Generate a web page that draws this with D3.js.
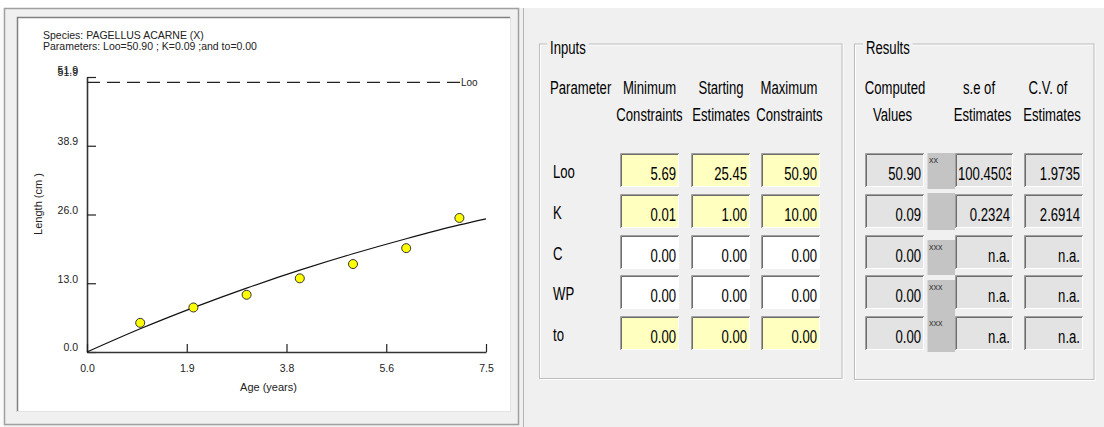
<!DOCTYPE html>
<html>
<head>
<meta charset="utf-8">
<script src="https://cdn.jsdelivr.net/npm/d3@7"></script>
<style>
  html, body { margin: 0; padding: 0; background: #f0f0f0; }
  svg { display: block; font-family: "Liberation Sans", Arial, sans-serif; }
</style>
</head>
<body>
<svg id="root" width="1104" height="427"></svg>
<script>
// ---- Growth data: observed mean length at age ----
const ages = [1, 2, 3, 4, 5, 6, 7];
const meanLengths = [5.5, 8.4, 10.8, 13.9, 16.6, 19.6, 25.3];

// ---- Fitted growth curve (Loo=50.90, K=0.09, to=0.00) ----
const curveAges = [0, 1, 2, 3, 4, 5, 6, 7, 7.5];
const curveLengths = [0, 4.38, 8.38, 12.06, 15.44, 18.54, 21.38, 23.99, 25.14];
const lInfinity = 50.9;

// ---- Axis ticks ----
const xTickValues = [0, 1.875, 3.75, 5.625, 7.5];
const xTickLabels = ["0.0", "1.9", "3.8", "5.6", "7.5"];
const yTickValues = [0, 12.975, 25.95, 38.925, 51.9];
const yTickLabels = ["0.0", "13.0", "26.0", "38.9", "51.9"];

// ---- Parameter table ----
const paramNames = ["Loo", "K", "C", "WP", "to"];
const minConstraints = [5.69, 0.01, 0.00, 0.00, 0.00];
const startEstimates = [25.45, 1.00, 0.00, 0.00, 0.00];
const maxConstraints = [50.90, 10.00, 0.00, 0.00, 0.00];
const activeParams = [true, true, false, false, true];
const computedValues = [50.90, 0.09, 0.00, 0.00, 0.00];
const seEstimates = ["100.4503", "0.2324", "n.a.", "n.a.", "n.a."];
const cvEstimates = ["1.9735", "2.6914", "n.a.", "n.a.", "n.a."];
const flags = ["xx", "", "xxx", "xxx", "xxx"];

const svg = d3.select("#root");
const W = 1104, H = 427;

// window background
svg.append("rect").attr("width", W).attr("height", H).attr("fill", "#f0f0f0");
svg.append("rect").attr("width", W).attr("height", 8).attr("fill", "#ffffff");
svg.append("rect").attr("y", 8).attr("width", 4).attr("height", H - 8).attr("fill", "#fafafa");

// ---------- left pane ----------
const pane = svg.append("g");
pane.append("rect").attr("x", 4.5).attr("y", 8.5).attr("width", 514).attr("height", 416)
  .attr("fill", "#f0f0f0").attr("stroke", "#a0a0a0").attr("stroke-width", 1.5);
pane.append("rect").attr("x", 17).attr("y", 17).attr("width", 493).attr("height", 395).attr("fill", "#ffffff");
pane.append("path").attr("d", "M17.5,412V17.5H510").attr("fill", "none").attr("stroke", "#808080").attr("stroke-width", 1.5);
pane.append("path").attr("d", "M17,411.5H510.5V17").attr("fill", "none").attr("stroke", "#e3e3e3");
svg.append("line").attr("x1", 523.5).attr("x2", 523.5).attr("y1", 8).attr("y2", H)
  .attr("stroke", "#b4b4b4");

const chart = svg.append("g").attr("fill", "#222");
const x = d3.scaleLinear().domain([0, 7.5]).range([87, 486]);
const y = d3.scaleLinear().domain([0, 51.9]).range([352, 77]);

chart.append("text").attr("x", 43).attr("y", 38.5).attr("font-size", 10.5)
  .text("Species: PAGELLUS ACARNE (X)");
chart.append("text").attr("x", 43).attr("y", 49.5).attr("font-size", 10.5)
  .text("Parameters: Loo=50.90 ; K=0.09 ;and to=0.00");

const yAxis = chart.append("g").attr("transform", `translate(${x(0)},0)`)
  .call(d3.axisLeft(y).tickValues(yTickValues).tickFormat((d, i) => yTickLabels[i])
    .tickSizeInner(-9).tickSizeOuter(0).tickPadding(9));
const xAxis = chart.append("g").attr("transform", `translate(0,${y(0)})`)
  .call(d3.axisBottom(x).tickValues(xTickValues).tickFormat((d, i) => xTickLabels[i])
    .tickSizeInner(-8).tickSizeOuter(0).tickPadding(13));
[yAxis, xAxis].forEach(a => {
  a.attr("font-family", null).attr("font-size", 10.5);
  a.select(".domain").attr("stroke", "#333").attr("stroke-width", 1.6);
  a.selectAll(".tick line").attr("stroke", "#222").attr("stroke-width", 1.2);
  a.selectAll(".tick text").attr("fill", "#222");
});
yAxis.selectAll(".tick text").attr("dy", "-0.12em");
// second top label drawn slightly above the first
chart.append("text").attr("x", x(0) - 9).attr("y", y(51.9) - 3.5).attr("text-anchor", "end")
  .attr("font-size", 10.5).attr("fill", "#222").text(yTickLabels[4]);

// asymptotic length line
chart.append("line").attr("x1", x(0)).attr("x2", x.range()[1] - 25)
  .attr("y1", y(lInfinity)).attr("y2", y(lInfinity))
  .attr("stroke", "#222").attr("stroke-width", 1.2).attr("stroke-dasharray", "13,7");
chart.append("text").attr("x", x.range()[1] - 25).attr("y", y(lInfinity) + 3.5)
  .attr("font-size", 10).text("Loo");

// fitted curve
const line = d3.line().x((d, i) => x(curveAges[i])).y(d => y(d)).curve(d3.curveMonotoneX);
chart.append("path").datum(curveLengths).attr("d", line)
  .attr("fill", "none").attr("stroke", "#111").attr("stroke-width", 1.2);

// observed points
chart.selectAll("circle.obs").data(meanLengths).join("circle").attr("class", "obs")
  .attr("cx", (d, i) => x(ages[i])).attr("cy", d => y(d)).attr("r", 4.5)
  .attr("fill", "#ffff00").attr("stroke", "#333").attr("stroke-width", 1);

// axis titles
chart.append("text").attr("x", 268.5).attr("y", 391).attr("text-anchor", "middle")
  .attr("font-size", 11).text("Age (years)");
chart.append("text").attr("transform", "translate(41.5,204) rotate(-90)").attr("text-anchor", "middle")
  .attr("font-size", 11).text("Length (cm )");

// ---------- parameter panel ----------
const SX = 0.71;
const panel = svg.append("g").attr("fill", "#000");
function ntext(g, px, py, str, anchor, size) {
  return g.append("text").attr("transform", `translate(${px},${py}) scale(${SX},1)`)
    .attr("text-anchor", anchor || "start").attr("font-size", size || 18.5).text(str);
}
function groupBox(x0, y0, x1, y1, label, lx) {
  panel.append("rect").attr("x", x0 + 1.5).attr("y", y0 + 1.5).attr("width", x1 - x0).attr("height", y1 - y0)
    .attr("fill", "none").attr("stroke", "#ffffff");
  panel.append("rect").attr("x", x0 + 0.5).attr("y", y0 + 0.5).attr("width", x1 - x0).attr("height", y1 - y0)
    .attr("fill", "none").attr("stroke", "#bdbdbd");
  const bg = panel.append("rect").attr("fill", "#f0f0f0");
  const t = ntext(panel, lx, y0 + 10, label, "start", 18.5);
  const w = t.node().getComputedTextLength() * SX;
  bg.attr("x", lx - 3).attr("y", y0 - 2).attr("width", w + 6).attr("height", 6);
}
function sunken(g, x0, y0, w, h, fill) {
  g.append("rect").attr("x", x0).attr("y", y0).attr("width", w).attr("height", h).attr("fill", fill);
  g.append("path").attr("d", `M${x0},${y0 + h - 0.5}H${x0 + w - 0.5}V${y0}`)
    .attr("fill", "none").attr("stroke", "#ffffff");
  g.append("path").attr("d", `M${x0 + 0.5},${y0 + h}V${y0 + 0.5}H${x0 + w}`)
    .attr("fill", "none").attr("stroke", "#a0a0a0");
  g.append("path").attr("d", `M${x0 + 1.5},${y0 + h - 1}V${y0 + 1.5}H${x0 + w - 1}`)
    .attr("fill", "none").attr("stroke", "#6d6d6d");
}
function boxValue(g, x0, y0, w, h, str) {
  const id = "clip" + Math.round(x0) + "_" + Math.round(y0);
  g.append("clipPath").attr("id", id).append("rect")
    .attr("x", x0 + 2).attr("y", y0 + 2).attr("width", w - 4).attr("height", h - 4);
  const holder = g.append("g").attr("clip-path", `url(#${id})`);
  const t = ntext(holder, x0 + w - 3, y0 + 26.5, str, "end");
  const tw = t.node().getComputedTextLength() * SX;
  if (tw > w - 6) {
    t.attr("text-anchor", "start").attr("transform", `translate(${x0 + 3},${y0 + 26.5}) scale(${SX},1)`);
  }
}

groupBox(539, 43.5, 841.5, 378, "Inputs", 550);
groupBox(854, 43.5, 1093.5, 379, "Results", 866);

// column headings
ntext(panel, 550, 93.5, "Parameter");
[["Minimum", "Constraints", 649.5, 649.5], ["Starting", "Estimates", 721, 721], ["Maximum", "Constraints", 789, 789.5],
 ["Computed", "Values", 895, 892.5], ["s.e of", "Estimates", 979, 982.5], ["C.V. of", "Estimates", 1048, 1052]]
  .forEach(([a, b, c1, c2]) => {
    ntext(panel, c1, 93.5, a, "middle");
    ntext(panel, c2, 121, b, "middle");
  });

const rowTop = d3.scaleLinear().domain([0, 4]).range([153, 316]);
const boxH = 34;
const inputCols = [[620, minConstraints], [691, startEstimates], [761, maxConstraints]];

paramNames.forEach((p, i) => {
  const top = Math.round(rowTop(i));
  ntext(panel, 553, top + 25, p);
  inputCols.forEach(([cx, vals]) => {
    sunken(panel, cx, top, 59, boxH, activeParams[i] ? "#ffffc0" : "#ffffff");
    boxValue(panel, cx, top, 59, boxH, vals[i].toFixed(2));
  });
  sunken(panel, 865, top, 59, boxH, "#e3e3e3");
  boxValue(panel, 865, top, 59, boxH, computedValues[i].toFixed(2));
  sunken(panel, 955, top, 58, boxH, "#e3e3e3");
  boxValue(panel, 955, top, 58, boxH, seEstimates[i]);
  sunken(panel, 1024, top, 59, boxH, "#e3e3e3");
  boxValue(panel, 1024, top, 59, boxH, cvEstimates[i]);
});

// flag column between computed values and standard errors
const flagSpans = [[153, 189], [193, 230], [240, 275], [280, 316], [316, 352]];
flagSpans.forEach(([a, b], i) => {
  panel.append("rect").attr("x", 927.5).attr("y", a).attr("width", 27.5).attr("height", b - a)
    .attr("fill", "#c4c4c4");
  if (flags[i]) {
    panel.append("text").attr("x", 929).attr("y", a + 10).attr("font-size", 9)
      .attr("fill", "#3a3a3a").text(flags[i]);
  }
});
</script>
</body>
</html>
